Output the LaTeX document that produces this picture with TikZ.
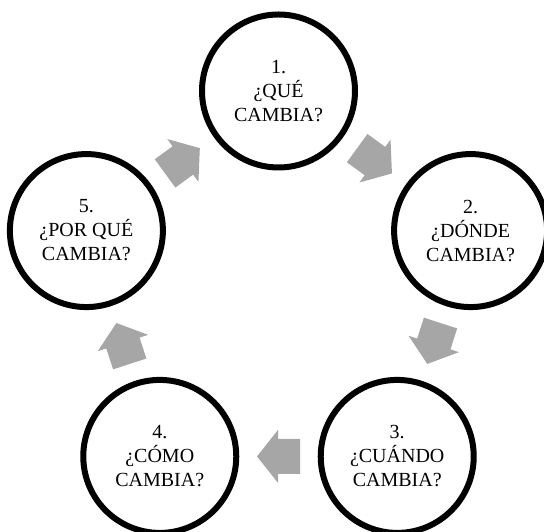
\documentclass[tikz,border=0pt]{standalone}
\usepackage{fontspec}
\setmainfont{Liberation Serif}
\usetikzlibrary{calc}
\definecolor{grisflecha}{RGB}{166,166,166}
\tikzset{
  pregunta/.style={circle,draw=black,line width=6pt,fill=white,minimum size=153pt,inner sep=0pt,align=center,font=\fontsize{20}{24}\selectfont},
  flecha/.style={fill=grisflecha}
}
\begin{document}
\begin{tikzpicture}[x=1pt,y=1pt]
      \def\R{202};
      \useasboundingbox (0,0) rectangle (544,532);
      \coordinate (O) at (278.5,239);
      \foreach \txt [count=\k] in {{1.\\¿QUÉ\\CAMBIA?},{2.\\¿DÓNDE\\CAMBIA?},{3.\\¿CUÁNDO\\CAMBIA?},{4.\\¿CÓMO\\CAMBIA?},{5.\\¿POR QUÉ\\CAMBIA?}} {
          \pgfmathsetmacro{\tk}{90-72*(\k-1)};
          \node[pregunta] (p\k) at ($(O)+(\tk:\R)$) {\txt};
        }
      \foreach \k in {1,...,5} {
          \pgfmathtruncatemacro{\j}{mod(\k,5)+1};
          \pgfmathsetmacro{\dir}{-36-72*(\k-1)};
          \begin{scope}[shift={($(p\k)!0.5!(p\j)$)},rotate=\dir]
            \fill[flecha] (-21.5,-17.5) -- (0.5,-17.5) -- (0.5,-26.5) -- (21.5,0) -- (0.5,26.5) -- (0.5,17.5) -- (-21.5,17.5) -- cycle;
          \end{scope}
        }
\end{tikzpicture}
\end{document}
